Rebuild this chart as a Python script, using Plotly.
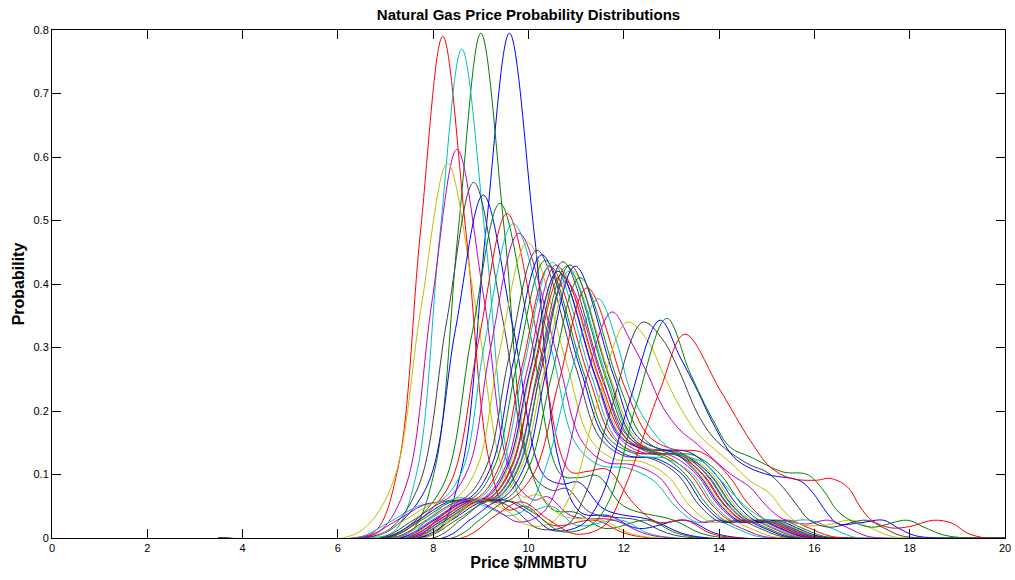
import plotly.graph_objects as go

# MATLAB default line colour order
BLUE    = 'rgb(  0,   0, 255)'
GREEN   = 'rgb(  0, 128,   0)'
RED     = 'rgb(255,   0,   0)'
CYAN    = 'rgb(  0, 191, 191)'
MAGENTA = 'rgb(191,   0, 191)'
YELLOW  = 'rgb(191, 191,   0)'
BLACK   = 'rgb( 64,  64,  64)'
line_colors = [BLUE, GREEN, RED, CYAN, MAGENTA, YELLOW, BLACK]

FONT = 'Liberation Sans, Arial, Helvetica, sans-serif'

price_ticks = [0, 2, 4, 6, 8, 10, 12, 14, 16, 18, 20]
prob_ticks = [0, 0.1, 0.2, 0.3, 0.4, 0.5, 0.6, 0.7, 0.8]
prob_labels = ['0', '0.1', '0.2', '0.3', '0.4', '0.5', '0.6', '0.7', '0.8']

# (price $/MMBTU, probability) knots
m01 = [(3.5, 0), (7.6, 0), (8.1, 0.012), (8.6, 0.11), (9.1, 0.48), (9.6, 0.795), (10.12, 0.48), (10.64, 0.12),
       (11.1, 0.04), (11.7, 0.035), (12.3, 0.015), (13.3, 0.028), (13.9, 0.008), (14.5, 0), (20, 0)]
m02 = [(3.5, 0), (7.0, 0), (7.55, 0.012), (8.04, 0.11), (8.52, 0.48), (9.0, 0.795), (9.5, 0.48), (10.0, 0.12),
       (10.5, 0.045), (11.0, 0.04), (11.6, 0.015), (12.5, 0.028), (13.1, 0.008), (13.7, 0), (20, 0)]
m03 = [(3.5, 0), (6.3, 0), (6.8, 0.012), (7.26, 0.11), (7.73, 0.48), (8.2, 0.79), (8.69, 0.48), (9.18, 0.12),
       (9.55, 0.045), (9.95, 0.05), (10.5, 0.02), (11.4, 0.028), (12.0, 0.008), (12.6, 0), (20, 0)]
m04 = [(3.5, 0), (6.7, 0), (7.2, 0.012), (7.66, 0.105), (8.13, 0.47), (8.6, 0.77), (9.1, 0.47), (9.6, 0.115),
       (10.0, 0.045), (10.5, 0.05), (11.0, 0.02), (11.95, 0.028), (12.5, 0.008), (13.1, 0), (20, 0)]
m05 = [(3.5, 0), (6.4, 0), (6.9, 0.012), (7.44, 0.085), (7.97, 0.37), (8.5, 0.612), (9.07, 0.375), (9.64, 0.1),
       (10.1, 0.06), (10.4, 0.065), (10.9, 0.035), (11.8, 0.028), (12.4, 0.008), (13.0, 0), (20, 0)]
m06 = [(3.5, 0), (6.1, 0), (6.62, 0.02), (7.18, 0.093), (7.74, 0.36), (8.3, 0.59), (8.9, 0.36), (9.5, 0.1),
       (9.9, 0.065), (10.2, 0.068), (10.7, 0.035), (11.55, 0.028), (12.1, 0.008), (12.7, 0), (20, 0)]
m07 = [(3.5, 0), (6.5, 0), (7.1, 0.015), (7.71, 0.085), (8.28, 0.34), (8.85, 0.56), (9.47, 0.34), (10.09, 0.1),
       (10.5, 0.075), (10.8, 0.078), (11.3, 0.04), (12.3, 0.028), (12.9, 0.008), (13.5, 0), (20, 0)]
m08 = [(3.5, 0), (6.6, 0), (7.2, 0.018), (7.89, 0.085), (8.47, 0.33), (9.05, 0.54), (9.68, 0.33), (10.31, 0.1),
       (10.7, 0.085), (11.05, 0.088), (11.6, 0.045), (12.6, 0.028), (13.2, 0.008), (13.8, 0), (20, 0)]
m09 = [(3.5, 0), (6.9, 0), (7.5, 0.02), (8.22, 0.085), (8.81, 0.32), (9.4, 0.527), (10.04, 0.32), (10.68, 0.1),
       (11.05, 0.095), (11.45, 0.098), (12.0, 0.05), (13.05, 0.028), (13.6, 0.008), (14.2, 0), (20, 0)]
m10 = [(3.5, 0), (7.0, 0), (7.6, 0.022), (8.35, 0.085), (8.95, 0.31), (9.55, 0.511), (10.21, 0.31), (10.87, 0.105),
       (11.25, 0.105), (11.65, 0.108), (12.2, 0.055), (12.7, 0.025), (13.3, 0.028), (13.8, 0.008), (14.4, 0), (20, 0)]
m11 = [(3.5, 0), (6.38, 0), (7.08, 0.025), (7.68, 0.05), (8.18, 0.06), (8.63, 0.11), (9.08, 0.307), (9.68, 0.495),
       (10.48, 0.297), (10.98, 0.15), (11.48, 0.115), (12.08, 0.11), (12.63, 0.09), (13.08, 0.05), (13.53, 0.025),
       (13.93, 0.028), (14.33, 0.016), (14.78, 0.003), (15.28, 0), (20, 0)]
m12 = [(3.5, 0), (6.5, 0), (7.2, 0.026), (7.8, 0.052), (8.3, 0.062), (8.75, 0.112), (9.2, 0.298), (9.8, 0.48),
       (10.6, 0.288), (11.1, 0.155), (11.6, 0.12), (12.2, 0.115), (12.75, 0.095), (13.2, 0.05), (13.65, 0.025),
       (14.05, 0.028), (14.45, 0.016), (14.9, 0.003), (15.4, 0), (20, 0)]
m13 = [(3.5, 0), (6.68, 0), (7.38, 0.027), (7.98, 0.054), (8.48, 0.063), (8.93, 0.113), (9.38, 0.289), (9.98, 0.466),
       (10.78, 0.28), (11.28, 0.158), (11.78, 0.125), (12.38, 0.12), (12.93, 0.097), (13.38, 0.051), (13.83, 0.025),
       (14.23, 0.028), (14.63, 0.016), (15.08, 0.003), (15.58, 0), (20, 0)]
m14 = [(3.5, 0), (6.88, 0), (7.58, 0.028), (8.18, 0.056), (8.68, 0.064), (9.13, 0.115), (9.58, 0.281), (10.18, 0.453),
       (10.98, 0.272), (11.48, 0.16), (11.98, 0.13), (12.58, 0.125), (13.13, 0.1), (13.58, 0.052), (14.03, 0.025),
       (14.43, 0.028), (14.83, 0.016), (15.28, 0.003), (15.78, 0), (20, 0)]
m15 = [(3.5, 0), (6.98, 0), (7.68, 0.028), (8.28, 0.056), (8.78, 0.064), (9.23, 0.115), (9.68, 0.277), (10.28, 0.446),
       (11.08, 0.268), (11.58, 0.16), (12.08, 0.13), (12.68, 0.125), (13.23, 0.1), (13.68, 0.052), (14.13, 0.025),
       (14.53, 0.028), (14.93, 0.016), (15.38, 0.003), (15.88, 0), (20, 0)]
m16 = [(3.5, 0), (7.05, 0), (7.75, 0.028), (8.35, 0.056), (8.85, 0.064), (9.3, 0.115), (9.75, 0.271), (10.35, 0.437),
       (11.15, 0.262), (11.65, 0.16), (12.15, 0.135), (12.75, 0.13), (13.3, 0.1), (13.75, 0.052), (14.2, 0.025),
       (14.6, 0.028), (15.0, 0.016), (15.45, 0.003), (15.95, 0), (20, 0)]
m17 = [(3.5, 0), (7.15, 0), (7.85, 0.028), (8.45, 0.056), (8.95, 0.064), (9.4, 0.115), (9.85, 0.265), (10.45, 0.428),
       (11.25, 0.257), (11.75, 0.16), (12.25, 0.135), (12.85, 0.13), (13.4, 0.1), (13.85, 0.052), (14.3, 0.025),
       (14.7, 0.028), (15.1, 0.016), (15.55, 0.003), (16.05, 0), (20, 0)]
m18 = [(3.5, 0), (7.2, 0), (7.9, 0.028), (8.5, 0.056), (9.0, 0.064), (9.45, 0.115), (9.9, 0.269), (10.5, 0.434),
       (11.3, 0.26), (11.8, 0.16), (12.3, 0.13), (12.9, 0.125), (13.45, 0.1), (13.9, 0.052), (14.35, 0.025),
       (14.75, 0.028), (15.15, 0.016), (15.6, 0.003), (16.1, 0), (20, 0)]
m19 = [(3.5, 0), (7.28, 0), (7.98, 0.028), (8.58, 0.056), (9.08, 0.064), (9.53, 0.115), (9.98, 0.267), (10.58, 0.43),
       (11.38, 0.258), (11.88, 0.16), (12.38, 0.135), (12.98, 0.13), (13.53, 0.1), (13.98, 0.052), (14.43, 0.025),
       (14.83, 0.028), (15.23, 0.016), (15.68, 0.003), (16.18, 0), (20, 0)]
m20 = [(3.5, 0), (7.35, 0), (8.05, 0.028), (8.65, 0.056), (9.15, 0.064), (9.6, 0.115), (10.05, 0.264), (10.65, 0.425),
       (11.45, 0.255), (11.95, 0.16), (12.45, 0.14), (13.05, 0.135), (13.6, 0.1), (14.05, 0.052), (14.5, 0.025),
       (14.9, 0.028), (15.3, 0.016), (15.75, 0.003), (16.25, 0), (20, 0)]
m21 = [(3.5, 0), (7.42, 0), (8.12, 0.028), (8.72, 0.056), (9.22, 0.064), (9.67, 0.115), (10.12, 0.27), (10.72, 0.435),
       (11.52, 0.261), (12.02, 0.16), (12.52, 0.135), (13.12, 0.13), (13.67, 0.1), (14.12, 0.052), (14.57, 0.025),
       (14.97, 0.028), (15.37, 0.016), (15.82, 0.003), (16.32, 0), (20, 0)]
m22 = [(3.5, 0), (7.32, 0), (8.02, 0.028), (8.62, 0.056), (9.12, 0.064), (9.57, 0.115), (10.02, 0.26), (10.62, 0.42),
       (11.42, 0.252), (11.92, 0.16), (12.42, 0.14), (13.02, 0.135), (13.57, 0.1), (14.02, 0.052), (14.47, 0.025),
       (14.87, 0.028), (15.27, 0.016), (15.72, 0.003), (16.22, 0), (20, 0)]
m23 = [(3.5, 0), (7.5, 0), (8.2, 0.028), (8.8, 0.056), (9.3, 0.064), (9.75, 0.115), (10.2, 0.265), (10.8, 0.428),
       (11.6, 0.257), (12.1, 0.16), (12.6, 0.135), (13.2, 0.13), (13.75, 0.1), (14.2, 0.052), (14.65, 0.025),
       (15.05, 0.028), (15.45, 0.016), (15.9, 0.003), (16.4, 0), (20, 0)]
m24 = [(3.5, 0), (7.4, 0), (8.1, 0.028), (8.7, 0.056), (9.2, 0.064), (9.65, 0.115), (10.1, 0.257), (10.7, 0.415),
       (11.5, 0.249), (12.0, 0.16), (12.5, 0.14), (13.1, 0.135), (13.65, 0.1), (14.1, 0.052), (14.55, 0.025),
       (14.95, 0.028), (15.35, 0.016), (15.8, 0.003), (16.3, 0), (20, 0)]
m25 = [(3.5, 0), (7.55, 0), (8.25, 0.028), (8.85, 0.056), (9.35, 0.064), (9.8, 0.115), (10.25, 0.26), (10.85, 0.42),
       (11.65, 0.252), (12.15, 0.16), (12.65, 0.135), (13.25, 0.13), (13.8, 0.1), (14.25, 0.052), (14.7, 0.025),
       (15.1, 0.028), (15.5, 0.016), (15.95, 0.003), (16.45, 0), (20, 0)]
m26 = [(3.5, 0), (7.48, 0), (8.18, 0.028), (8.78, 0.056), (9.28, 0.064), (9.73, 0.115), (10.18, 0.251), (10.78, 0.405),
       (11.58, 0.243), (12.08, 0.16), (12.58, 0.14), (13.18, 0.135), (13.73, 0.1), (14.18, 0.052), (14.63, 0.025),
       (15.03, 0.028), (15.43, 0.016), (15.88, 0.003), (16.38, 0), (20, 0)]
m27 = [(3.5, 0), (7.62, 0), (8.32, 0.028), (8.92, 0.056), (9.42, 0.064), (9.87, 0.115), (10.32, 0.26), (10.92, 0.42),
       (11.72, 0.252), (12.22, 0.16), (12.72, 0.135), (13.32, 0.13), (13.87, 0.1), (14.32, 0.052), (14.77, 0.025),
       (15.17, 0.028), (15.57, 0.016), (16.02, 0.003), (16.52, 0), (20, 0)]
m28 = [(3.5, 0), (7.57, 0), (8.27, 0.028), (8.87, 0.056), (9.37, 0.064), (9.82, 0.115), (10.27, 0.267), (10.87, 0.43),
       (11.67, 0.258), (12.17, 0.16), (12.67, 0.135), (13.27, 0.13), (13.82, 0.1), (14.27, 0.052), (14.72, 0.025),
       (15.12, 0.028), (15.52, 0.016), (15.97, 0.003), (16.47, 0), (20, 0)]
m29 = [(3.5, 0), (7.68, 0), (8.38, 0.028), (8.98, 0.056), (9.48, 0.064), (9.93, 0.115), (10.38, 0.265), (10.98, 0.428),
       (11.78, 0.257), (12.28, 0.16), (12.78, 0.14), (13.38, 0.135), (13.93, 0.1), (14.38, 0.052), (14.83, 0.025),
       (15.23, 0.028), (15.63, 0.016), (16.08, 0.003), (16.58, 0), (20, 0)]
m30 = [(3.5, 0), (7.78, 0), (8.48, 0.028), (9.08, 0.056), (9.58, 0.064), (10.03, 0.115), (10.48, 0.254), (11.08, 0.41),
       (11.88, 0.246), (12.38, 0.16), (12.88, 0.135), (13.48, 0.13), (14.03, 0.1), (14.48, 0.052), (14.93, 0.025),
       (15.33, 0.028), (15.73, 0.016), (16.18, 0.003), (16.68, 0), (20, 0)]
m31 = [(3.5, 0), (7.8, 0), (8.4, 0.03), (8.95, 0.06), (9.5, 0.056), (10.1, 0.1), (10.65, 0.25), (11.23, 0.394),
       (12.03, 0.236), (12.53, 0.16), (13.03, 0.14), (13.63, 0.135), (14.18, 0.1), (14.63, 0.052), (15.08, 0.025),
       (15.48, 0.028), (15.88, 0.016), (16.33, 0.003), (16.83, 0), (20, 0)]
m32 = [(3.5, 0), (7.4, 0), (7.9, 0.03), (8.5, 0.063), (9.1, 0.05), (9.6, 0.035), (10.0, 0.05), (10.4, 0.12),
       (10.85, 0.25), (11.46, 0.377), (11.86, 0.307), (12.13, 0.233), (12.49, 0.181), (12.82, 0.15), (13.18, 0.132),
       (13.7, 0.118), (14.1, 0.085), (14.65, 0.044), (15.1, 0.026), (15.9, 0.028), (16.4, 0.014), (16.8, 0.002),
       (17.2, 0), (20, 0)]
m33 = [(3.5, 0), (7.6, 0), (8.1, 0.03), (8.7, 0.062), (9.3, 0.045), (9.8, 0.025), (10.3, 0.04), (10.7, 0.1),
       (11.1, 0.22), (11.75, 0.356), (12.13, 0.312), (12.49, 0.26), (12.82, 0.206), (13.18, 0.17), (13.54, 0.148),
       (13.87, 0.125), (14.25, 0.1), (14.65, 0.08), (15.0, 0.05), (15.34, 0.03), (15.8, 0.022), (16.3, 0.028),
       (16.7, 0.016), (17.1, 0.003), (17.5, 0), (20, 0)]
m34 = [(3.5, 0), (7.8, 0), (8.4, 0.03), (8.93, 0.06), (9.5, 0.045), (10.0, 0.02), (10.5, 0.025), (10.95, 0.08),
       (11.4, 0.2), (12.07, 0.34), (12.49, 0.312), (12.82, 0.26), (13.18, 0.206), (13.54, 0.165), (13.9, 0.14),
       (14.25, 0.118), (14.65, 0.09), (15.07, 0.07), (15.34, 0.044), (15.7, 0.022), (16.2, 0.02), (16.8, 0.028),
       (17.2, 0.015), (17.6, 0.003), (18.0, 0), (20, 0)]
m35 = [(3.5, 0), (8.0, 0), (8.6, 0.03), (9.18, 0.06), (9.7, 0.045), (10.2, 0.015), (10.8, 0.02), (11.2, 0.07),
       (11.72, 0.2), (12.4, 0.34), (12.82, 0.312), (13.18, 0.26), (13.54, 0.197), (13.87, 0.159), (14.23, 0.135),
       (14.65, 0.115), (15.0, 0.104), (15.34, 0.08), (15.6, 0.055), (15.9, 0.028), (16.3, 0.017), (17.1, 0.028),
       (17.45, 0.016), (17.8, 0.004), (18.3, 0), (20, 0)]
m36 = [(3.5, 0), (8.2, 0), (8.8, 0.03), (9.44, 0.06), (10.0, 0.04), (10.5, 0.012), (11.1, 0.02), (11.5, 0.06),
       (12.1, 0.21), (12.76, 0.343), (13.18, 0.285), (13.54, 0.233), (13.87, 0.181), (14.3, 0.128), (14.65, 0.11),
       (15.07, 0.099), (15.7, 0.09), (15.97, 0.071), (16.27, 0.039), (16.5, 0.022), (16.96, 0.024), (17.45, 0.028),
       (17.75, 0.016), (18.1, 0.004), (18.6, 0), (20, 0)]
m37 = [(3.5, 0), (8.4, 0), (9.0, 0.03), (9.57, 0.058), (10.1, 0.04), (10.7, 0.01), (11.3, 0.02), (11.7, 0.06),
       (12.26, 0.21), (12.9, 0.346), (13.39, 0.26), (13.87, 0.186), (14.23, 0.143), (14.65, 0.128), (15.34, 0.104),
       (15.85, 0.1), (16.18, 0.076), (16.47, 0.044), (16.75, 0.028), (17.2, 0.017), (17.95, 0.028), (18.3, 0.017),
       (18.7, 0.005), (19.2, 0), (20, 0)]
m38 = [(3.5, 0), (8.6, 0), (9.3, 0.035), (9.85, 0.057), (10.4, 0.03), (11.0, 0.006), (11.6, 0.02), (12.0, 0.076),
       (12.76, 0.233), (13.28, 0.321), (14.02, 0.233), (14.65, 0.154), (15.07, 0.112), (15.5, 0.094), (16.05, 0.091),
       (16.33, 0.094), (16.7, 0.08), (16.96, 0.049), (17.2, 0.028), (17.6, 0.016), (18.0, 0.018), (18.5, 0.028),
       (18.9, 0.023), (19.2, 0.008), (19.6, 0), (20, 0)]

months = [m01, m02, m03, m04, m05, m06, m07, m08, m09, m10,
          m11, m12, m13, m14, m15, m16, m17, m18, m19, m20,
          m21, m22, m23, m24, m25, m26, m27, m28, m29, m30,
          m31, m32, m33, m34, m35, m36, m37, m38]

fig = go.Figure()
for i, knots in enumerate(months):
    fig.add_trace(go.Scatter(
        x=[k[0] for k in knots],
        y=[k[1] for k in knots],
        mode='lines',
        line=dict(color=line_colors[i % len(line_colors)], width=1, shape='spline', smoothing=1.0),
        hoverinfo='x+y',
        showlegend=False,
    ))

axis_style = dict(
    showline=True, linecolor='black', linewidth=1, mirror='ticks',
    ticks='inside', ticklen=9, tickcolor='black', tickwidth=1,
    showgrid=False, zeroline=False, automargin=False,
    tickfont=dict(family=FONT, size=11, color='black'),
)

fig.update_layout(
    width=1015, height=580,
    margin=dict(l=52, r=10, t=30, b=42),
    paper_bgcolor='white', plot_bgcolor='white',
    title=dict(text='<b>Natural Gas Price Probability Distributions</b>',
               font=dict(family=FONT, size=15, color='black'),
               x=0.5, xref='paper', xanchor='center',
               y=1 - 15 / 580, yref='container', yanchor='middle'),
    xaxis=dict(range=[0, 20], tickvals=price_ticks,
               title=dict(text='<b>Price $/MMBTU</b>', font=dict(family=FONT, size=16, color='black'), standoff=2),
               **axis_style),
    yaxis=dict(range=[0, 0.8], tickvals=prob_ticks, ticktext=prob_labels,
               title=dict(text='<b>Probability</b>', font=dict(family=FONT, size=16, color='black'), standoff=4),
               **axis_style),
)

# drop the page's default body margin and scrollbars so the figure fills the window exactly
page_fix = "document.body.style.margin = '0'; document.body.style.overflow = 'hidden';"
fig.write_html("out.html", post_script=page_fix, config={'displayModeBar': False})
